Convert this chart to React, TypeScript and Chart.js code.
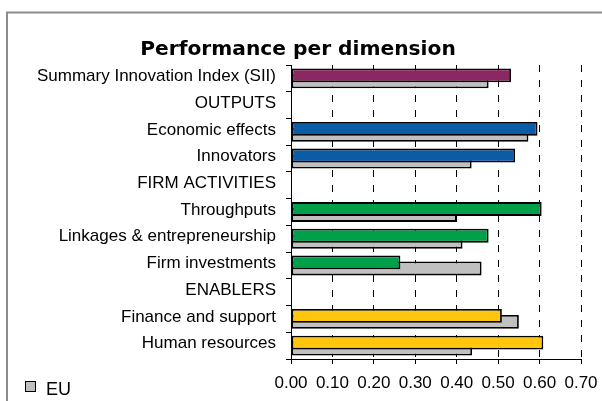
import React, { useEffect, useRef } from 'react';
import { Chart, registerables } from 'chart.js';

Chart.register(...registerables);

const categories = [
  'Summary Innovation Index (SII)',
  'OUTPUTS',
  'Economic effects',
  'Innovators',
  'FIRM ACTIVITIES',
  'Throughputs',
  'Linkages & entrepreneurship',
  'Firm investments',
  'ENABLERS',
  'Finance and support',
  'Human resources',
];

const countryValues = [0.531, null, 0.595, 0.541, null, 0.605, 0.477, 0.264, null, 0.509, 0.609];
const euValues = [0.477, null, 0.573, 0.436, null, 0.4, 0.414, 0.46, null, 0.55, 0.437];

const PURPLE = '#8b2762';
const BLUE = '#0b5ca6';
const GREEN = '#00a04b';
const YELLOW = '#ffc60d';
const countryColors = [PURPLE, BLUE, BLUE, BLUE, GREEN, GREEN, GREEN, GREEN, YELLOW, YELLOW, YELLOW];

const titleText = 'Performance per dimension';
const legendLabel = 'EU';

export default function App() {
  const ref = useRef<HTMLCanvasElement>(null);

  useEffect(() => {
    if (!ref.current) return;
    const framePlugin = {
      id: 'framePlugin',
      beforeDraw(chart: any) {
        const ctx = chart.ctx;
        ctx.save();
        ctx.fillStyle = '#ffffff';
        ctx.fillRect(0, 0, chart.width, chart.height);
        ctx.strokeStyle = '#8c8c8c';
        ctx.lineWidth = 2;
        ctx.strokeRect(7, 12.5, 700, 500);
        ctx.restore();
      },
      afterDraw(chart: any) {
        const ctx = chart.ctx;
        ctx.save();
        ctx.fillStyle = '#000';
        ctx.font = 'bold 20.2px "DejaVu Sans"';
        ctx.textAlign = 'center';
        ctx.textBaseline = 'alphabetic';
        ctx.fillText(titleText, 298, 55);
        // legend
        ctx.fillStyle = '#c0c0c0';
        ctx.fillRect(25.5, 381.5, 10, 10);
        ctx.strokeStyle = '#000';
        ctx.lineWidth = 1;
        ctx.strokeRect(25.5, 381.5, 10, 10);
        ctx.fillStyle = '#000';
        ctx.font = '18px "Liberation Sans"';
        ctx.textAlign = 'left';
        ctx.fillText(legendLabel, 46, 395);
        ctx.restore();
      },
    };

    const chart = new Chart(ref.current, {
      type: 'bar',
      data: {
        labels: categories,
        datasets: [
          {
            label: 'Country',
            data: countryValues,
            backgroundColor: countryColors,
            borderColor: '#000',
            borderWidth: 1.8,
            borderSkipped: false,
            categoryPercentage: 0.45,
            barPercentage: 2.3,
          },
          {
            label: 'EU',
            data: euValues,
            backgroundColor: '#c0c0c0',
            borderColor: '#000',
            borderWidth: 1.8,
            borderSkipped: false,
            categoryPercentage: 0.45,
            barPercentage: 2.3,
          },
        ],
      } as any,
      options: {
        indexAxis: 'y',
        responsive: false,
        animation: false,
        layout: { padding: { left: 0, right: 21, top: 65, bottom: 0 } },
        plugins: {
          legend: { display: false },
          title: { display: false },
          tooltip: { enabled: false },
        },
        scales: {
          x: {
            type: 'linear',
            position: 'bottom',
            min: 0,
            max: 0.7,
            ticks: {
              stepSize: 0.1,
              callback: (v: any) => Number(v).toFixed(2),
              font: { family: '"Liberation Sans"', size: 17 },
              color: '#000',
              padding: 9,
              maxRotation: 0,
              autoSkip: false,
            },
            grid: {
              color: '#000',
              lineWidth: 1,
              tickLength: 5,
              tickColor: '#000',
              drawOnChartArea: true,
            },
            border: { display: true, color: '#000', width: 1, dash: [7, 8] },
            afterFit: (s: any) => {
              s.height = 42;
              s.paddingLeft = 0;
              s.paddingRight = 0;
            },
          },
          y: {
            ticks: {
              font: { family: '"Liberation Sans"', size: 17 },
              color: '#000',
              padding: 10,
              labelOffset: -2,
              autoSkip: false,
            },
            grid: {
              drawOnChartArea: false,
              tickLength: 5,
              tickColor: '#000',
              color: '#000',
              offset: true,
            },
            border: { display: true, color: '#000', width: 1 },
            afterFit: (s: any) => {
              s.width = 291;
              s.paddingTop = 0;
              s.paddingBottom = 0;
            },
          },
        },
      } as any,
      plugins: [framePlugin],
    });
    return () => chart.destroy();
  }, []);

  return (
    <div style={{ position: 'absolute', left: 0, top: 0, width: 602, height: 401 }}>
      <canvas ref={ref} width={602} height={401} style={{ display: 'block' }} />
    </div>
  );
}
